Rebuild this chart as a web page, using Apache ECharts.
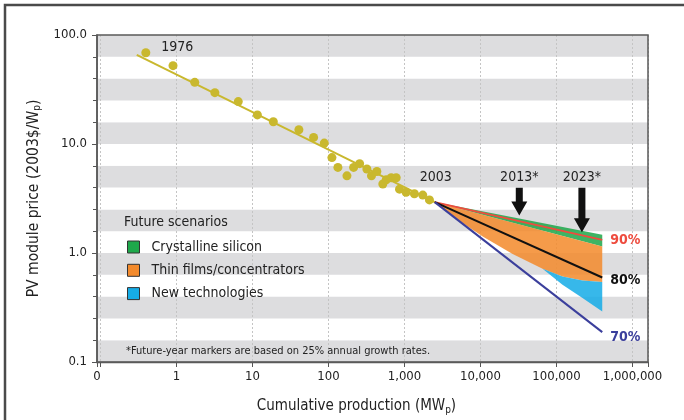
<!DOCTYPE html>
<html>
<head>
<meta charset="utf-8">
<title>PV module experience curve</title>
<script src="https://cdn.jsdelivr.net/npm/echarts@6.0.0/dist/echarts.min.js"></script>
<style>
  *{margin:0;padding:0;}
  body{background:#fff;}
  #main{width:684px;height:420px;}
</style>
</head>
<body>
<div id="main"></div>
<script>
var FONT = '"Liberation Sans Narrow","Arial Narrow","DejaVu Sans Condensed",sans-serif';

// historical module prices 1976 -> 2003 (cumulative MWp, 2003$/Wp)
var histProd  = [0.395, 0.90, 1.74, 3.2, 6.5, 11.6, 18.8, 40.8, 63.7, 88, 111, 133, 175, 214, 257, 320, 368, 433, 519, 575, 669, 778, 860, 1050, 1350, 1740, 2130];
var histPrice = [68.8, 52.3, 36.8, 29.6, 24.5, 18.5, 16.0, 13.5, 11.5, 10.2, 7.5, 6.1, 5.1, 6.1, 6.6, 5.9, 5.1, 5.6, 4.3, 4.7, 4.9, 4.9, 3.85, 3.6, 3.5, 3.4, 3.07];

// fitted experience curve
var trendProd  = [0.30, 2500];
var trendPrice = [65.6, 2.93];

// learning-rate projections from 2003
var projProd = [2500, 400000];
var lr90 = [2.93, 1.32];
var lr80 = [2.93, 0.596];
var lr70 = [2.93, 0.188];

// scenario band edges, [production, price]
var siliconUpper = [[2500, 2.93], [400000, 1.47]];
var siliconLower = [[2500, 2.93], [400000, 1.15]];
var thinLower = [[2500, 2.93], [5840, 1.88], [10700, 1.42], [26500, 0.977], [65600, 0.716], [120000, 0.609], [220000, 0.56], [400000, 0.541]];
var newUpper  = [[65600, 0.716], [120000, 0.609], [220000, 0.56], [400000, 0.541]];
var newLower  = [[65600, 0.716], [120000, 0.511], [220000, 0.386], [400000, 0.291]];

// future-year markers (25% annual growth)
var markerYears = ['2013*', '2023*'];
var markerProd  = [32400, 216000];
var markerTop   = [3.96, 3.96];
var markerTip   = [2.21, 1.55];

// x tick labels
var xTickValues = [1, 10, 100, 1000, 10000, 100000, 1000000];
var xTickLabels = ['1', '10', '100', '1,000', '10,000', '100,000', '1,000,000'];

var chart = echarts.init(document.getElementById('main'));

function zip(xs, ys) {
  return xs.map(function (x, i) { return [x, ys[i]]; });
}

function bandSeries(name, color, upper, lower) {
  return {
    name: name,
    type: 'custom',
    z: 3,
    silent: true,
    itemStyle: {color: color},
    data: [upper[0]],
    renderItem: function (params, api) {
      var pts = upper.concat(lower.slice().reverse()).map(function (p) { return api.coord(p); });
      return {type: 'polygon', shape: {points: pts}, style: {fill: color, opacity: 0.86}};
    }
  };
}

function projLine(name, prices, color, offset) {
  return {
    name: name,
    type: 'line',
    z: 5,
    silent: true,
    data: zip(projProd, prices),
    symbol: 'none',
    lineStyle: {color: color, width: 2},
    itemStyle: {color: color},
    endLabel: {
      show: true, formatter: name, color: color, fontFamily: FONT,
      fontWeight: 'bold', fontSize: 14, distance: 8, offset: offset
    }
  };
}

var histData = zip(histProd, histPrice);
histData[0] = {
  value: histData[0],
  label: {show: true, formatter: '1976', position: 'right', distance: 11, offset: [0, -5],
          color: '#222', fontSize: 14, fontFamily: FONT}
};

var option = {
  animation: false,
  textStyle: {fontFamily: FONT},
  grid: {left: 97, right: 36, top: 35, bottom: 58},
  legend: {
    data: ['Crystalline silicon', 'Thin films/concentrators', 'New technologies'],
    orient: 'vertical', left: 122, top: 235,
    itemWidth: 12, itemHeight: 12, itemGap: 9.3, icon: 'rect',
    selectedMode: false,
    itemStyle: {borderColor: '#333', borderWidth: 1},
    textStyle: {fontSize: 14, color: '#222', fontFamily: FONT, padding: [0, 0, 0, 7]}
  },
  xAxis: {
    type: 'log', min: 0.09, max: 1600000,
    axisLine: {onZero: false, lineStyle: {color: '#555', width: 1.5}},
    axisTick: {show: true, length: 5, lineStyle: {color: '#555'}},
    axisLabel: {
      color: '#222', fontSize: 13, margin: 8, fontFamily: FONT,
      formatter: function (v) {
        if (v < 0.095) return '0';
        for (var i = 0; i < xTickValues.length; i++) {
          if (Math.abs(Math.log10(v) - Math.log10(xTickValues[i])) < 1e-6) return xTickLabels[i];
        }
        return '';
      }
    },
    splitLine: {show: true, lineStyle: {color: '#c4c4c4', type: [2, 2]}},
    name: '{a|Cumulative production (MW}{s|p}{a|)}',
    nameLocation: 'middle', nameGap: 35,
    nameTextStyle: {
      padding: [0, 32, 0, 0],
      rich: {
        a: {fontSize: 15, color: '#222', fontFamily: FONT, lineHeight: 18},
        s: {fontSize: 10, color: '#222', fontFamily: FONT, lineHeight: 18, verticalAlign: 'bottom', padding: [6, 0, 0, 0]}
      }
    }
  },
  yAxis: [{
    type: 'log', min: 0.1, max: 100, logBase: 10,
    axisLine: {onZero: false, lineStyle: {color: '#555', width: 1.5}},
    axisTick: {show: true, length: 5, lineStyle: {color: '#555'}},
    axisLabel: {
      color: '#222', fontSize: 13, margin: 10, fontFamily: FONT,
      formatter: function (v) {
        var e = Math.log10(v);
        return Math.abs(e - Math.round(e)) < 1e-6 ? v.toFixed(1) : '';
      }
    },
    splitLine: {show: false},
    name: '{a|PV module price (2003$/W}{s|p}{a|)}',
    nameLocation: 'middle', nameGap: 46,
    nameTextStyle: {
      rich: {
        a: {fontSize: 15.5, color: '#222', fontFamily: FONT, lineHeight: 18},
        s: {fontSize: 10, color: '#222', fontFamily: FONT, lineHeight: 18, verticalAlign: 'bottom', padding: [6, 0, 0, 0]}
      }
    }
  }, {
    // fifth-of-decade stripes and minor ticks, in log10 units
    type: 'value', min: -1, max: 2, interval: 0.2, position: 'left',
    axisLine: {show: false, onZero: false},
    axisTick: {show: true, length: 4, lineStyle: {color: '#555'}},
    axisLabel: {show: false},
    splitLine: {show: false},
    splitArea: {show: true, areaStyle: {color: ['#dddddf', '#ffffff']}}
  }],
  graphic: [
    {type: 'polyline', z: 100, shape: {points: [[5, 420], [5, 5], [684, 5]]}, style: {stroke: '#4a4a4a', lineWidth: 2.5, fill: null}, silent: true},
    {type: 'rect', z: 100, shape: {x: 97, y: 35, width: 551, height: 327.5}, style: {stroke: '#5a5a5a', lineWidth: 1.5, fill: null}, silent: true},
    {type: 'text', z: 100, x: 124, y: 222, style: {text: 'Future scenarios', fontSize: 14, fill: '#222', fontFamily: FONT, verticalAlign: 'middle'}, silent: true},
    {type: 'text', z: 100, x: 126, y: 351, style: {text: '*Future-year markers are based on 25% annual growth rates.', fontSize: 11, fill: '#222', fontFamily: FONT, verticalAlign: 'middle'}, silent: true},
    {type: 'rect', z: 100, shape: {x: 666, y: 364, width: 18, height: 28}, style: {fill: '#fff'}, silent: true}
  ],
  series: [
    {
      name: 'history', type: 'scatter', z: 6, silent: true,
      data: histData, symbolSize: 9,
      itemStyle: {color: '#c9b82e', opacity: 1}
    },
    {
      name: 'trend', type: 'line', z: 5, silent: true,
      data: zip(trendProd, trendPrice), symbol: 'none',
      lineStyle: {color: '#c9b82e', width: 2},
      markPoint: {
        symbol: 'circle', symbolSize: 1, itemStyle: {color: 'rgba(0,0,0,0)'},
        label: {show: true, position: 'inside', offset: [1, -25], formatter: '2003', color: '#222', fontSize: 14, fontFamily: FONT},
        data: [{coord: [trendProd[1], trendPrice[1]]}]
      }
    },
    bandSeries('Crystalline silicon', '#1ea84b', siliconUpper, siliconLower),
    bandSeries('Thin films/concentrators', '#f38a2c', siliconLower, thinLower),
    bandSeries('New technologies', '#16ace6', newUpper, newLower),
    projLine('90%', lr90, '#ee4b3e', [0, 1]),
    projLine('80%', lr80, '#111111', [0, 3]),
    projLine('70%', lr70, '#3b3f9c', [0, 5]),
    {
      name: 'markers', type: 'custom', z: 7, silent: true,
      data: markerProd.map(function (x, i) { return [x, markerTop[i], markerTip[i]]; }),
      encode: {x: 0, y: [1, 2]},
      renderItem: function (params, api) {
        var top = api.coord([api.value(0), api.value(1)]);
        var tip = api.coord([api.value(0), api.value(2)]);
        var x = top[0], hw = 8, sw = 3.5, hl = 14;
        return {
          type: 'group',
          children: [{
            type: 'polygon',
            shape: {points: [[x - sw, top[1]], [x + sw, top[1]], [x + sw, tip[1] - hl], [x + hw, tip[1] - hl],
                             [x, tip[1]], [x - hw, tip[1] - hl], [x - sw, tip[1] - hl]]},
            style: {fill: '#111'}
          }, {
            type: 'text', x: x, y: top[1] - 10,
            style: {text: markerYears[params.dataIndex], fontSize: 14, fill: '#222', fontFamily: FONT,
                    align: 'center', verticalAlign: 'middle'}
          }]
        };
      }
    }
  ]
};

chart.setOption(option);
</script>
</body>
</html>
